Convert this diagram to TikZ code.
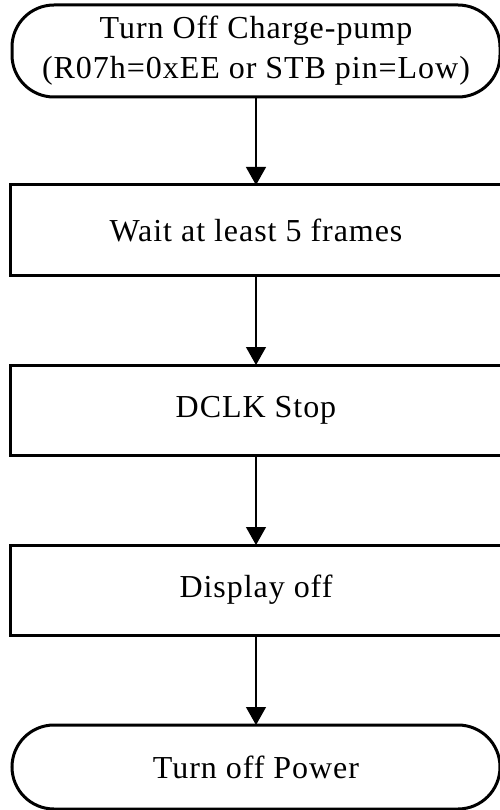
\documentclass[tikz,border=0pt]{standalone}
\usepackage{fontspec}
\setmainfont{Liberation Serif}[LetterSpace=3]
\usetikzlibrary{arrows.meta,positioning}
\tikzset{process/.style={draw, line width=3pt, outer sep=0pt, minimum width=492pt, minimum height=90pt, align=center, inner sep=0pt, font=\fontsize{32}{40}\selectfont}}
\tikzset{terminal/.style={process, minimum width=488pt, rounded corners=42pt}}

\begin{document}
\begin{tikzpicture}[x=1pt, y=1pt, node distance=90pt]
\useasboundingbox (0,0) rectangle (499,-810);
% Nodes
\node (TurnOffChargePump) [terminal, minimum height=92pt] at (256,-51) {Turn Off Charge-pump\\ (R07h=0xEE or STB pin=Low)};

\node (WaitFrames) [process, below=88pt of TurnOffChargePump] {Wait at least 5 frames};

\node (DCLKStop) [process, below=of WaitFrames] {DCLK Stop};

\node (DisplayOff) [process, below=of DCLKStop] {Display off};

\node (TurnOffPower) [terminal, minimum height=84pt, below=of DisplayOff] {Turn off Power};

% Connectors
\begin{scope}[line width=1.2pt]

\draw [-{Triangle[length=18pt, width=20pt]}] (TurnOffChargePump) -- (WaitFrames);
\draw [-{Triangle[length=18pt, width=20pt]}] (WaitFrames) -- (DCLKStop);
\draw [-{Triangle[length=18pt, width=20pt]}] (DCLKStop) -- (DisplayOff);
\draw [-{Triangle[length=18pt, width=20pt]}] (DisplayOff) -- (TurnOffPower);

\end{scope}

\end{tikzpicture}
\end{document}
